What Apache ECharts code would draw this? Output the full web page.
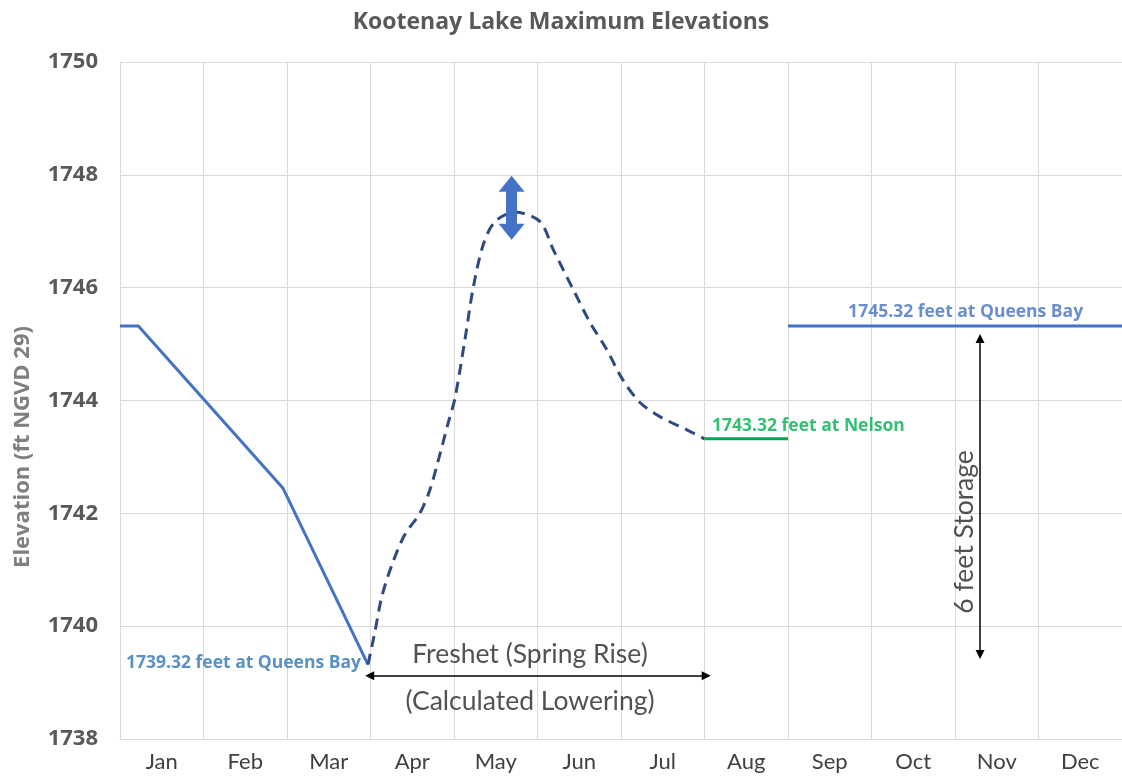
<!DOCTYPE html>
<html>
<head>
<meta charset="utf-8">
<script src="https://cdn.jsdelivr.net/npm/echarts@6/dist/echarts.min.js"></script>
<style>
html,body{margin:0;padding:0;background:#fff;}
#c{width:1122px;height:776px;}
</style>
</head>
<body>
<div id="c"></div>
<script>
// ---- data ----
const months = ['Jan','Feb','Mar','Apr','May','Jun','Jul','Aug','Sep','Oct','Nov','Dec'];
const yTicks = [1738, 1740, 1742, 1744, 1746, 1748, 1750];
// winter drawdown (solid), x in months from Jan 1
const drawdownX = [0, 0.22, 1.95, 2.97];
const drawdownY = [1745.32, 1745.32, 1742.45, 1739.32];
// freshet (dashed)
const freshetX = [2.97, 3.05, 3.14, 3.27, 3.41, 3.59, 3.71, 3.83, 3.93, 4.01, 4.13, 4.23, 4.35, 4.49, 4.73, 5.03, 5.19, 5.43, 5.63, 5.83, 6.02, 6.23, 6.47, 6.79, 7.0];
const freshetY = [1739.32, 1739.88, 1740.55, 1741.14, 1741.62, 1742.0, 1742.41, 1743.04, 1743.6, 1744.03, 1745.07, 1746.0, 1746.76, 1747.17, 1747.34, 1747.17, 1746.67, 1745.96, 1745.38, 1744.9, 1744.37, 1743.96, 1743.71, 1743.48, 1743.32];
// Nelson level (Aug)
const nelsonX = [7, 8];
const nelsonY = [1743.32, 1743.32];
// Queens Bay summer/fall level
const queensX = [8, 12];
const queensY = [1745.32, 1745.32];

const pairs = (xs, ys) => xs.map((x, i) => [x, ys[i]]);
const FONT = 'Lato';
const BFONT = 'Open Sans';

const chart = echarts.init(document.getElementById('c'));
const txt = (x, y, text, style) => ({value: [x, y], label: Object.assign({show: true, formatter: text, position: [0, 0], fontFamily: FONT, verticalAlign: 'middle'}, style)});

chart.setOption({
  animation: false,
  backgroundColor: '#ffffff',
  title: {
    text: 'Kootenay Lake Maximum Elevations',
    left: 'center', top: 6,
    textStyle: {fontFamily: BFONT, fontSize: 23, fontWeight: 'bold', color: '#595959'}
  },
  grid: {left: 120, right: 0, top: 62, bottom: 37, containLabel: false},
  xAxis: [
    {
      type: 'value', min: 0, max: 12, interval: 1,
      axisLabel: {show: false}, axisTick: {show: false},
      axisLine: {show: true, lineStyle: {color: '#d9d9d9'}},
      splitLine: {show: true, lineStyle: {color: '#d9d9d9', width: 1}}
    },
    {
      type: 'category', data: months, boundaryGap: true, position: 'bottom',
      axisLine: {show: false}, axisTick: {show: false}, splitLine: {show: false},
      axisLabel: {fontFamily: FONT, fontSize: 22, color: '#404040', margin: 12}
    }
  ],
  yAxis: {
    type: 'value', min: yTicks[0], max: yTicks[yTicks.length - 1], interval: 2,
    axisLine: {show: false}, axisTick: {show: false},
    axisLabel: {fontFamily: BFONT, fontSize: 22, fontWeight: 'bold', color: '#595959', margin: 22,
                formatter: v => String(v)},
    splitLine: {lineStyle: {color: '#d9d9d9', width: 1}}
  },
  graphic: [{
    type: 'text', x: 23, y: 447, rotation: Math.PI / 2,
    style: {text: 'Elevation (ft NGVD 29)', fontFamily: BFONT, fontSize: 22, fontWeight: 'bold',
            fill: '#7f7f7f', align: 'center', verticalAlign: 'middle'}
  }],
  series: [
    {
      type: 'line', data: pairs(drawdownX, drawdownY), symbol: 'none',
      lineStyle: {color: '#4472C4', width: 3}
    },
    {
      type: 'line', data: pairs(freshetX, freshetY), symbol: 'none', smooth: 0.3,
      lineStyle: {color: '#2F4A7E', width: 3, type: [11, 7]}
    },
    {
      type: 'line', data: pairs(nelsonX, nelsonY), symbol: 'none',
      lineStyle: {color: '#00A651', width: 3}
    },
    {
      type: 'line', data: pairs(queensX, queensY), symbol: 'none',
      lineStyle: {color: '#4472C4', width: 3}
    },
    {
      type: 'scatter', symbolSize: 0, silent: true,
      data: [
        txt(2.886, 1739.35, '1739.32 feet at Queens Bay', {align: 'right', fontFamily: BFONT, fontSize: 17.5, fontWeight: 'bold', color: '#2E75B6'}),
        txt(7.09, 1743.55, '1743.32 feet at Nelson', {align: 'left', fontFamily: BFONT, fontSize: 17.5, fontWeight: 'bold', color: '#00B050'}),
        txt(8.72, 1745.57, '1745.32 feet at Queens Bay', {align: 'left', fontFamily: BFONT, fontSize: 17.5, fontWeight: 'bold', color: '#4472C4'}),
        txt(4.91, 1739.49, 'Freshet (Spring Rise)', {align: 'center', fontSize: 26.5, color: '#262626'}),
        txt(4.91, 1738.66, '(Calculated Lowering)', {align: 'center', fontSize: 26.5, color: '#262626'}),
        txt(10.11, 1741.67, '6 feet Storage', {align: 'center', fontSize: 26.5, color: '#262626', rotate: 90})
      ],
      markLine: {
        silent: true, animation: false,
        label: {show: false},
        data: [
          [{coord: [2.99, 1739.12], symbol: 'triangle', symbolSize: [9, 9]},
           {coord: [7.02, 1739.12], symbol: 'triangle', symbolSize: [9, 9], lineStyle: {color: '#000', width: 1.5, type: 'solid'}}],
          [{coord: [10.3, 1745.1], symbol: 'triangle', symbolSize: [9, 9]},
           {coord: [10.3, 1739.5], symbol: 'triangle', symbolSize: [9, 9], lineStyle: {color: '#000', width: 1.5, type: 'solid'}}],
          [{coord: [4.69, 1747.84], symbol: 'triangle', symbolSize: [26, 16]},
           {coord: [4.69, 1746.99], symbol: 'triangle', symbolSize: [26, 16], lineStyle: {color: '#4472C4', width: 11, type: 'solid'}}]
        ]
      }
    }
  ]
});
</script>
</body>
</html>
